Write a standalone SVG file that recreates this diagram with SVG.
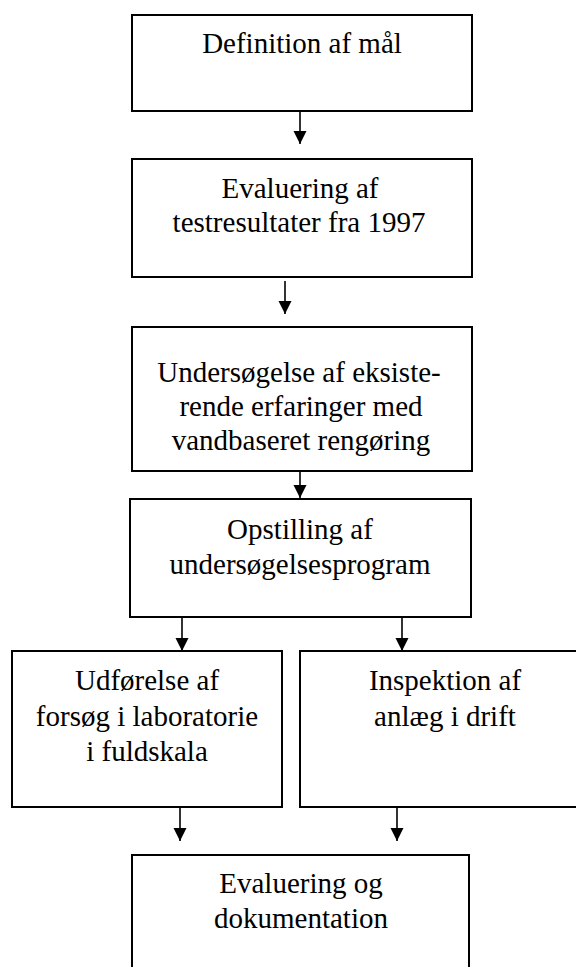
<svg xmlns="http://www.w3.org/2000/svg" width="576" height="967" viewBox="0 0 576 967">
<style>
.box{fill:#fff;stroke:#000;stroke-width:2}
.t{font-family:"Liberation Serif","Times New Roman",serif;font-size:29px;fill:#000;text-anchor:middle}
.c{stroke:#000;stroke-width:1.6;fill:none}
</style>
<defs>
<marker id="ah" markerUnits="userSpaceOnUse" markerWidth="14" markerHeight="14" viewBox="0 0 14 14" refX="13" refY="7" orient="auto">
<path d="M0,0.5 L13,7 L0,13.5 z" fill="#000"/>
</marker>
</defs>
<rect width="576" height="967" fill="#fff"/>
<g id="connectors">
<line class="c" x1="300" y1="111" x2="300" y2="144" marker-end="url(#ah)"/>
<line class="c" x1="285" y1="281" x2="285" y2="314" marker-end="url(#ah)"/>
<line class="c" x1="300" y1="465" x2="300" y2="498" marker-end="url(#ah)"/>
<line class="c" x1="182" y1="617" x2="182" y2="651" marker-end="url(#ah)"/>
<line class="c" x1="402" y1="617" x2="402" y2="651" marker-end="url(#ah)"/>
<line class="c" x1="180" y1="807" x2="180" y2="841" marker-end="url(#ah)"/>
<line class="c" x1="397" y1="807" x2="397" y2="841" marker-end="url(#ah)"/>
</g>
<g id="n1">
<rect class="box" x="132" y="15" width="340" height="96"/>
<text class="t" x="302" y="53">Definition af mål</text>
</g>
<g id="n2">
<rect class="box" x="132" y="159" width="340" height="118"/>
<text class="t" x="300" y="198">Evaluering af</text>
<text class="t" x="299" y="232">testresultater fra 1997</text>
</g>
<g id="n3">
<rect class="box" x="132" y="327" width="340" height="144"/>
<text class="t" x="299" y="382">Undersøgelse af eksiste-</text>
<text class="t" x="301" y="416">rende erfaringer med</text>
<text class="t" x="301" y="450">vandbaseret rengøring</text>
</g>
<g id="n4">
<rect class="box" x="130" y="499" width="341" height="118"/>
<text class="t" x="300" y="539">Opstilling af</text>
<text class="t" x="300" y="574">undersøgelsesprogram</text>
</g>
<g id="n5">
<rect class="box" x="12" y="651" width="270" height="156"/>
<text class="t" x="147" y="690">Udførelse af</text>
<text class="t" x="147" y="726">forsøg i laboratorie</text>
<text class="t" x="147" y="761">i fuldskala</text>
</g>
<g id="n6">
<rect class="box" x="300" y="651" width="290" height="156"/>
<text class="t" x="445" y="690">Inspektion af</text>
<text class="t" x="445" y="726">anlæg i drift</text>
</g>
<g id="n7">
<rect class="box" x="132" y="855" width="337" height="130"/>
<text class="t" x="301" y="893">Evaluering og</text>
<text class="t" x="301" y="928">dokumentation</text>
</g>
</svg>
